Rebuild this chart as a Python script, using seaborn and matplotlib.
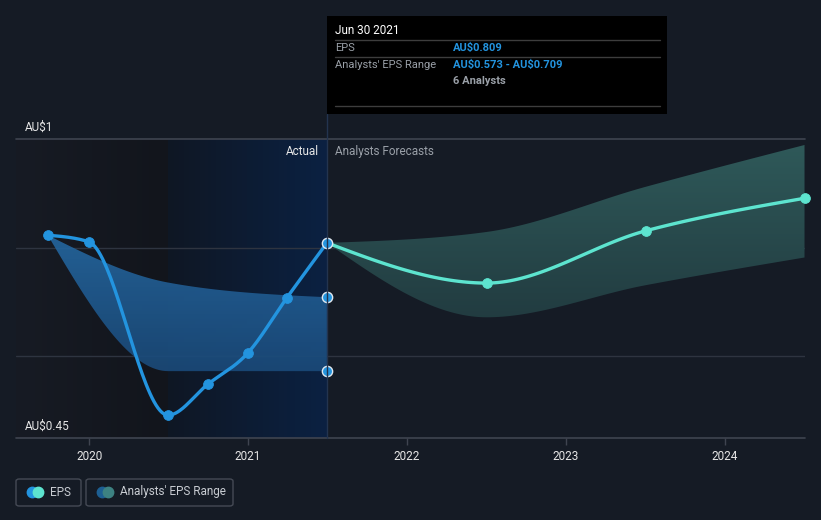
import numpy as np
import pandas as pd
import matplotlib
matplotlib.use("Agg")
import matplotlib.pyplot as plt
import seaborn as sns
from matplotlib.patches import FancyBboxPatch, Rectangle
from matplotlib.lines import Line2D
from matplotlib.colors import LinearSegmentedColormap

# ---------------- data ----------------
actual_dates = [2019.74, 2019.997, 2020.496, 2020.747, 2020.997, 2021.244, 2021.496]
actual_eps = [0.823, 0.811, 0.492, 0.549, 0.606, 0.708, 0.809]

past_range_dates = [2019.74, 2020.496, 2021.496]
past_range_high = [0.823, 0.736, 0.709]
past_range_low = [0.823, 0.573, 0.573]

fc_dates = [2021.496, 2022.5, 2023.5, 2024.5]
fc_eps = [0.809, 0.735, 0.831, 0.891]
fc_high = [0.809, 0.829, 0.912, 0.989]
fc_low = [0.809, 0.672, 0.731, 0.782]

year_ticks = [2020, 2021, 2022, 2023, 2024]
y_labels = {"top": "AU\\$1", "bottom": "AU\\$0.45"}

# ---------------- style ----------------
sns.set_theme(style="dark")
plt.rcParams["font.family"] = ["Roboto", "DejaVu Sans"]

BG = "#151b25"
BLUE = "#2394df"
TEAL = "#5de4cf"
GRID = "#2e3440"
TXT = "#e6e6e6"
GREY = "#9aa0a8"


def monotone(x, y, n=40):
    x = np.asarray(x, float)
    y = np.asarray(y, float)
    h = np.diff(x)
    s = np.diff(y) / h
    m = len(x)
    t = np.zeros(m)
    sg = lambda v: -1.0 if v < 0 else 1.0
    for i in range(1, m - 1):
        p = (s[i - 1] * h[i] + s[i] * h[i - 1]) / (h[i - 1] + h[i])
        t[i] = (sg(s[i - 1]) + sg(s[i])) * min(abs(s[i - 1]), abs(s[i]), 0.5 * abs(p))
    if m > 2:
        t[0] = (3 * s[0] - t[1]) / 2
        t[-1] = (3 * s[-1] - t[-2]) / 2
    else:
        t[0] = t[-1] = s[0]
    xs, ys = [], []
    for i in range(m - 1):
        u = np.linspace(0, 1, n, endpoint=(i == m - 2))
        h00 = 2 * u**3 - 3 * u**2 + 1
        h10 = u**3 - 2 * u**2 + u
        h01 = -2 * u**3 + 3 * u**2
        h11 = u**3 - u**2
        xs.append(x[i] + u * h[i])
        ys.append(h00 * y[i] + h10 * h[i] * t[i] + h01 * y[i + 1] + h11 * h[i] * t[i + 1])
    return np.concatenate(xs), np.concatenate(ys)


W, H = 821, 520
fig = plt.figure(figsize=(W / 100, H / 100), dpi=100, facecolor=BG)
ax_l, ax_r, ax_t, ax_b = 16, 805, 139, 438
ax = fig.add_axes([ax_l / W, 1 - ax_b / H, (ax_r - ax_l) / W, (ax_b - ax_t) / H])
ax.set_facecolor(BG)
X0, X1 = 2019.54, 2024.503
ax.set_xlim(X0, X1)
ax.set_ylim(0.45, 1.0)

# background shading regions
grad = np.linspace(0, 1, 256).reshape(1, -1)
cm_left = LinearSegmentedColormap.from_list("l", ["#171b24", "#12151c"])
cm_blue = LinearSegmentedColormap.from_list("b", ["#0f1724", "#0b2142"])
ax.imshow(grad, cmap=cm_left, extent=[X0, 2020.496, 0.45, 1.0], aspect="auto", zorder=0,
          interpolation="bilinear")
ax.imshow(grad, cmap=cm_blue, extent=[2020.496, 2021.496, 0.45, 1.0], aspect="auto", zorder=0,
          interpolation="bilinear")
ax.set_xlim(X0, X1)
ax.set_ylim(0.45, 1.0)

# grid lines
for yv in [0.8, 0.6]:
    ax.axhline(yv, color=GRID, lw=1, zorder=1)
ax.axhline(1.0, color="#3f4450", lw=1.2, zorder=1, clip_on=False)
ax.axhline(0.45, color="#3f4450", lw=1.2, zorder=1, clip_on=False)

# past range band
bx, bh = monotone(past_range_dates, past_range_high)
_, bl = monotone(past_range_dates, past_range_low)
band_poly = ax.fill_between(bx, bl, bh, color="none", lw=0, zorder=2)
cm_band = LinearSegmentedColormap.from_list("pb", ["#1a4877", "#2569a3"])
vgrad = np.linspace(0, 1, 256).reshape(-1, 1)
im = ax.imshow(vgrad, cmap=cm_band, extent=[past_range_dates[0], past_range_dates[-1], 0.55, 0.83],
               origin="lower", aspect="auto", zorder=2, alpha=0.9, interpolation="bilinear")
im.set_clip_path(band_poly.get_paths()[0], transform=ax.transData)

# forecast band
fx, fh = monotone(fc_dates, fc_high)
_, fl = monotone(fc_dates, fc_low)
fpoly = ax.fill_between(fx, fl, fh, color="none", lw=0, zorder=2)
cm_fband = LinearSegmentedColormap.from_list("fb", ["#213a3f", "#2f5a5a"])
im2 = ax.imshow(vgrad, cmap=cm_fband, extent=[fc_dates[0], fc_dates[-1], 0.65, 1.0],
                origin="lower", aspect="auto", zorder=2, interpolation="bilinear")
im2.set_clip_path(fpoly.get_paths()[0], transform=ax.transData)

ax.set_xlim(X0, X1)
ax.set_ylim(0.45, 1.0)

# lines
ex, ey = monotone(actual_dates, actual_eps)
sns.lineplot(x=ex, y=ey, ax=ax, color=BLUE, lw=2.4, zorder=4, sort=False, estimator=None)
gx, gy = monotone(fc_dates, fc_eps)
sns.lineplot(x=gx, y=gy, ax=ax, color=TEAL, lw=2.4, zorder=4, sort=False, estimator=None)

# markers
sns.scatterplot(x=actual_dates[:-1], y=actual_eps[:-1], ax=ax, color=BLUE, s=50, edgecolor=BLUE, zorder=5)
sns.scatterplot(x=fc_dates[1:], y=fc_eps[1:], ax=ax, color=TEAL, s=50, edgecolor=TEAL, zorder=5, clip_on=False)
sns.scatterplot(x=[actual_dates[-1]] * 3, y=[actual_eps[-1], past_range_high[-1], past_range_low[-1]],
                ax=ax, color=BLUE, s=55, edgecolor="#dfe8f0", linewidth=1.0, zorder=6)

ax.set_xlim(X0, X1)
ax.set_ylim(0.45, 1.0)

# axes decor
for sp in ax.spines.values():
    sp.set_visible(False)
ax.set_yticks([])
ax.set_xticks(year_ticks)
ax.set_xticklabels([str(y) for y in year_ticks], color=TXT, fontsize=8.5)
ax.tick_params(axis="x", length=5, width=1, color="#3f4450", pad=4, bottom=True)
ax.grid(False)
ax.set_xlabel("")
ax.set_ylabel("")

# y labels
fig.text(25 / W, 1 - 127 / H, y_labels["top"], color=TXT, fontsize=8.5, va="center", ha="left")
fig.text(25 / W, 1 - 426 / H, y_labels["bottom"], color=TXT, fontsize=8.5, va="center", ha="left")

# actual / forecast labels
fig.text(319 / W, 1 - 151 / H, "Actual", color=TXT, fontsize=8.5, va="center", ha="right")
fig.text(335 / W, 1 - 151 / H, "Analysts Forecasts", color=GREY, fontsize=8.5, va="center", ha="left")

# vertical divider
fig.add_artist(Line2D([327 / W, 327 / W], [1 - 438 / H, 1 - 114 / H], color="#23344f", lw=1, zorder=3))

# tooltip
fig.add_artist(Rectangle((327 / W, 1 - 114 / H), 340 / W, 98 / H, facecolor="#000000", edgecolor="none", zorder=7))
for yy in [40, 57, 106]:
    fig.add_artist(Line2D([335 / W, 660 / W], [1 - yy / H] * 2, color="#3d3d3d", lw=1, zorder=8))
fig.text(335 / W, 1 - 31 / H, "Jun 30 2021", color="#ffffff", fontsize=8.5, va="center", zorder=9)
fig.text(335 / W, 1 - 48 / H, "EPS", color=GREY, fontsize=8, va="center", zorder=9)
fig.text(453 / W, 1 - 48 / H, "AU\\$0.809", color=BLUE, fontsize=8, va="center", fontweight="bold", zorder=9)
fig.text(335 / W, 1 - 65 / H, "Analysts' EPS Range", color=GREY, fontsize=8, va="center", zorder=9)
fig.text(453 / W, 1 - 65 / H, "AU\\$0.573 - AU\\$0.709", color=BLUE, fontsize=8, va="center",
         fontweight="bold", zorder=9)
fig.text(453 / W, 1 - 81 / H, "6 Analysts", color=GREY, fontsize=8, va="center", fontweight="bold", zorder=9)

# legend
def legend_box(x0, x1, c1, c2, label):
    fig.add_artist(FancyBboxPatch((x0 / W, 1 - 506 / H), (x1 - x0) / W, 27 / H,
                                  boxstyle="round,pad=0,rounding_size=0.004",
                                  facecolor="none", edgecolor="#454a55", lw=1))
    cy = 492
    for cx, col in [(x0 + 16, c1), (x0 + 22, c2)]:
        fig.add_artist(Line2D([cx / W], [1 - cy / H], marker="o", markersize=7.5,
                              color=col, markeredgecolor=col, linestyle="none"))
    fig.text((x0 + 34) / W, 1 - cy / H, label, color="#c8ccd2", fontsize=8.5, va="center")

legend_box(16, 81, BLUE, TEAL, "EPS")
legend_box(86, 233, "#1d5f93", "#3d8282", "Analysts' EPS Range")

fig.savefig("out.png", dpi=100, facecolor=BG)
